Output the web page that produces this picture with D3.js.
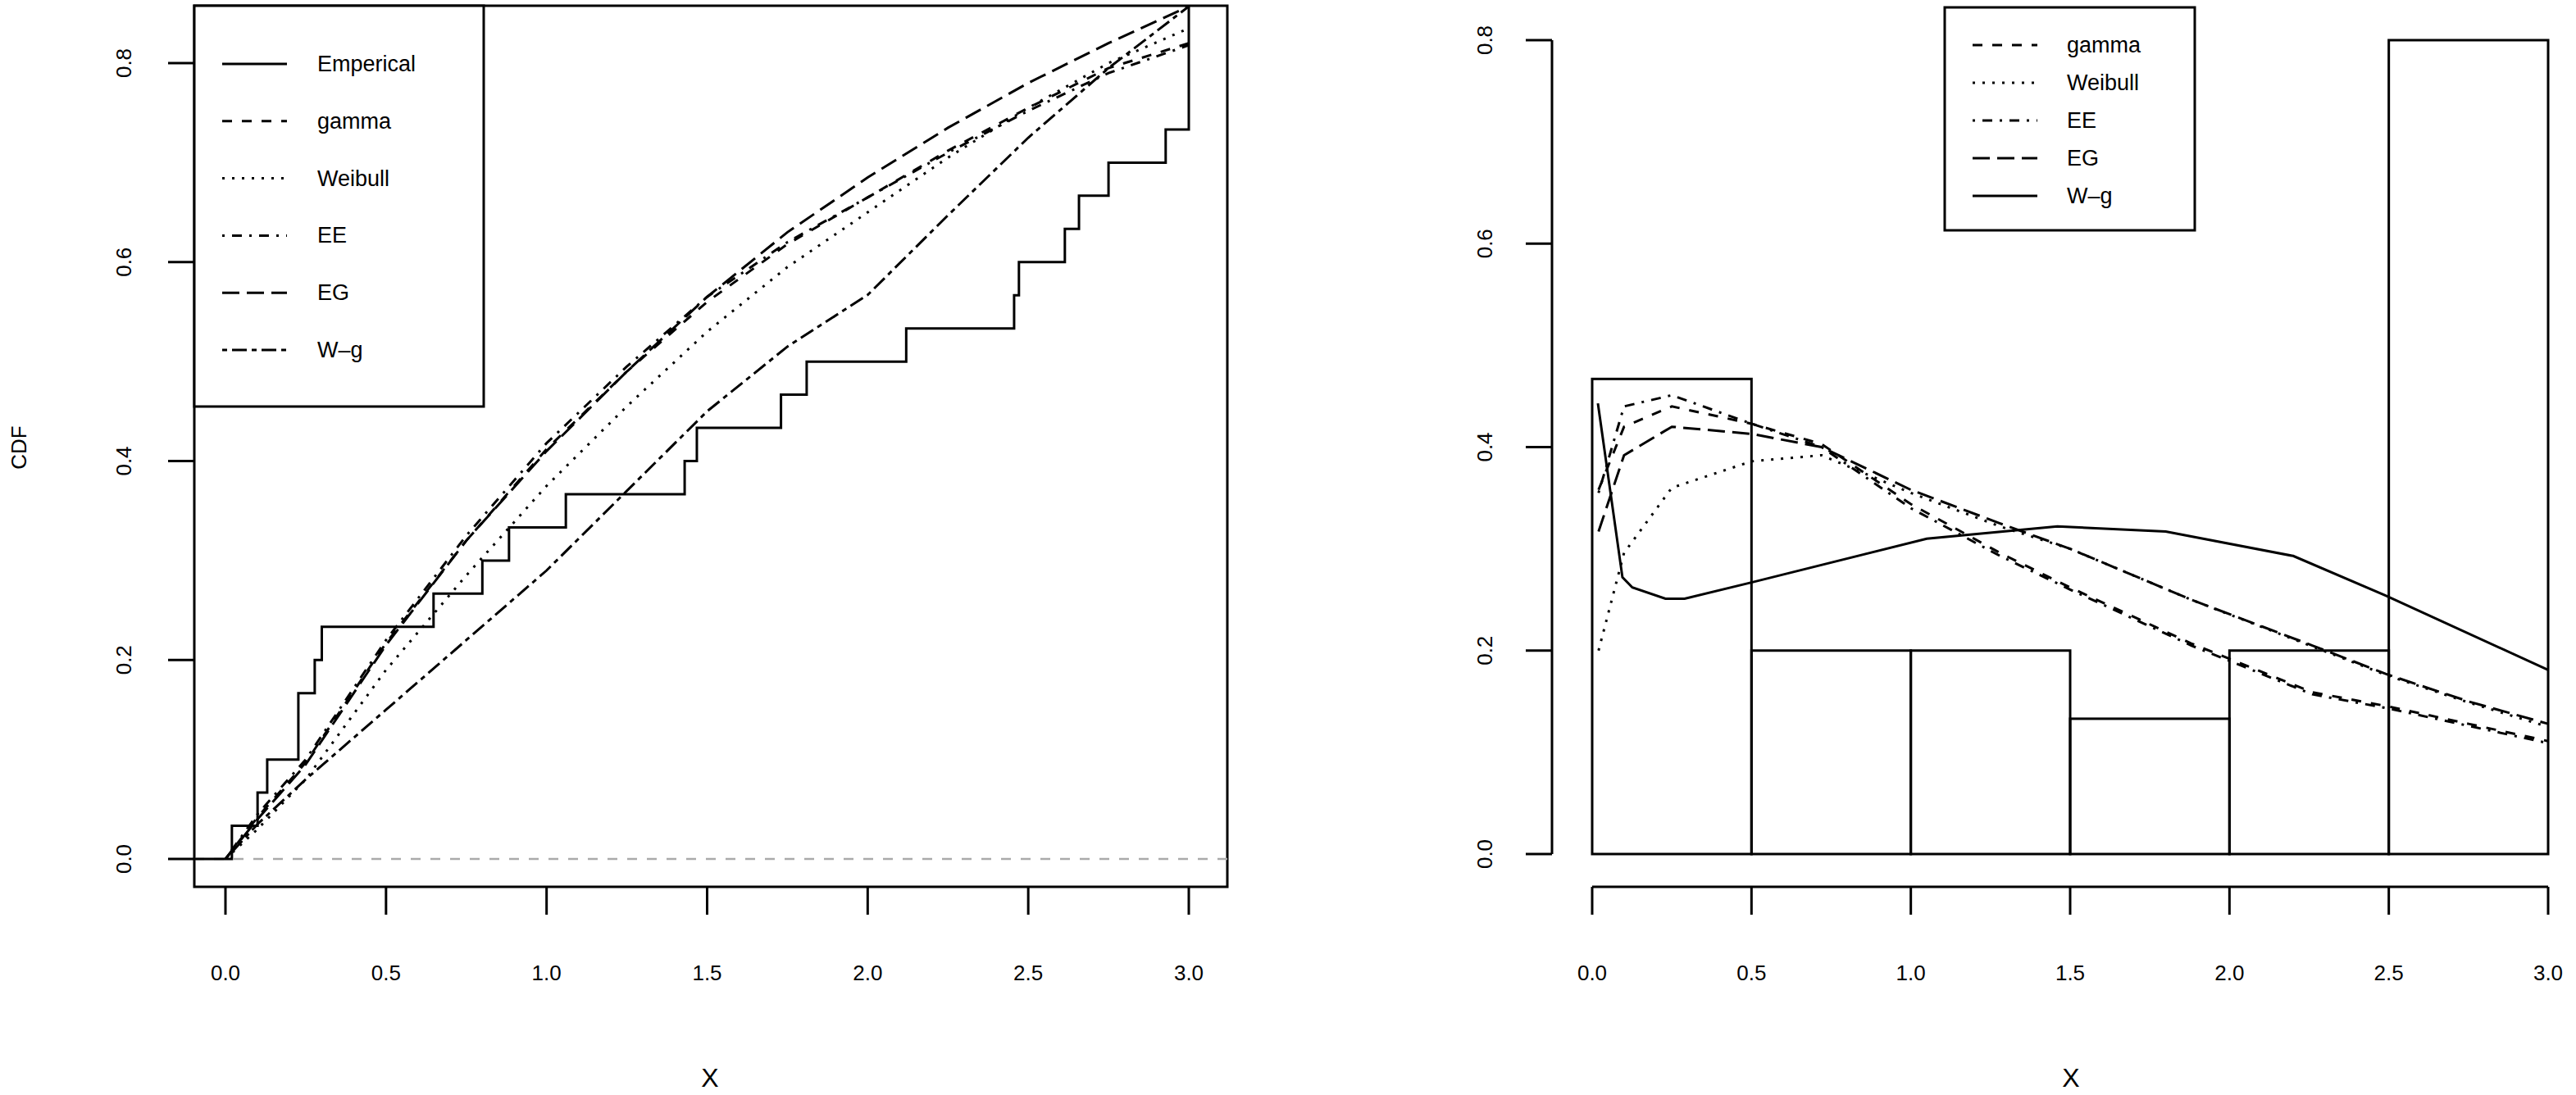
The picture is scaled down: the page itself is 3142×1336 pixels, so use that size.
<!DOCTYPE html>
<html><head><meta charset="utf-8">
<script src="https://cdn.jsdelivr.net/npm/d3@7"></script>
<style>body{margin:0;background:#fff}text{font-family:"Liberation Sans",Arial,sans-serif}</style>
</head><body>
<svg id="chart" width="3142" height="1336"></svg>
<script>
// empirical CDF steps (x, level after jump)
var ecdfX = [0.02,0.10,0.13,0.227,0.278,0.30,0.648,0.80,0.883,1.06,1.43,1.468,1.73,1.81,2.12,2.456,2.471,2.614,2.658,2.75,2.928,3.0];
var ecdfY = [0.0333,0.0667,0.1,0.1667,0.2,0.2333,0.2667,0.3,0.3333,0.3667,0.4,0.4333,0.4667,0.5,0.5333,0.5667,0.6,0.6333,0.6667,0.7,0.7333,1.0];

var cdfX = [0,0.1,0.25,0.5,0.75,1,1.25,1.5,1.75,2,2.25,2.5,2.75,3];
var cdfGamma = [0,0.042,0.097,0.217,0.32,0.412,0.49,0.56,0.618,0.665,0.712,0.755,0.795,0.82];
var cdfWeibull = [0,0.03,0.08,0.19,0.285,0.375,0.455,0.53,0.595,0.65,0.705,0.755,0.8,0.835];
var cdfEE = [0,0.045,0.1,0.22,0.325,0.418,0.495,0.565,0.62,0.665,0.71,0.752,0.79,0.818];
var cdfEG = [0,0.04,0.095,0.215,0.32,0.41,0.49,0.565,0.63,0.685,0.735,0.78,0.82,0.857];
var cdfWg = [0,0.035,0.08,0.15,0.22,0.29,0.37,0.45,0.515,0.567,0.647,0.725,0.795,0.857];

var histBreaks = [0,0.5,1,1.5,2,2.5,3];
var histDensity = [0.467,0.2,0.2,0.133,0.2,0.8];

var pdfX = [0.02,0.1,0.25,0.5,0.72,1.0,1.28,1.5,1.88,2.26,2.5,2.75,3.0];
var pdfGamma = [0.358,0.42,0.44,0.423,0.403,0.344,0.296,0.262,0.207,0.159,0.145,0.128,0.111];
var pdfEE = [0.355,0.44,0.451,0.423,0.4,0.34,0.293,0.26,0.205,0.157,0.143,0.126,0.109];
var pdfEG = [0.317,0.392,0.42,0.413,0.4,0.358,0.325,0.3,0.25,0.205,0.176,0.15,0.128];
var pdfWeibull = [0.2,0.296,0.36,0.386,0.392,0.355,0.322,0.3,0.25,0.204,0.175,0.149,0.125];
var wgX = [0.018,0.095,0.126,0.23,0.29,0.5,1.05,1.46,1.8,2.2,2.49,3.0];
var wgY = [0.443,0.272,0.262,0.251,0.251,0.267,0.31,0.322,0.317,0.293,0.254,0.181];

var yTicks = [0,0.2,0.4,0.6,0.8];
var xTicks = [0,0.5,1,1.5,2,2.5,3];
var fmt = d3.format(".1f");

var svg = d3.select("#chart");
var LW = 3;

function path(g, xs, ys, x, y, dash){
  var line = d3.line().x(function(d){return x(d[0]);}).y(function(d){return y(d[1]);});
  g.append("path").datum(d3.zip(xs, ys)).attr("d", line)
   .attr("fill","none").attr("stroke","#000").attr("stroke-width",LW)
   .attr("stroke-dasharray", dash);
}

// ---------- left panel ----------
var L = svg.append("g");
var xL = d3.scaleLinear().domain([0,3]).range([275,1450]);
var yL = d3.scaleLinear().domain([0,0.8]).range([1048,77]);
L.append("rect").attr("x",237).attr("y",7).attr("width",1260).attr("height",1075)
 .attr("fill","none").attr("stroke","#000").attr("stroke-width",LW);
L.append("defs").append("clipPath").attr("id","clipL").append("rect")
 .attr("x",237).attr("y",7).attr("width",1260).attr("height",1075);
var LP = L.append("g").attr("clip-path","url(#clipL)");
LP.append("line").attr("x1",237).attr("x2",1497).attr("y1",yL(0)).attr("y2",yL(0))
 .attr("stroke","#aaa").attr("stroke-width",2.5).attr("stroke-dasharray","12,12");

var stepPts = [[-0.1,0],[ecdfX[0],0]];
ecdfX.forEach(function(v,i){
  stepPts.push([v, ecdfY[i]]);
  stepPts.push([i+1<ecdfX.length?ecdfX[i+1]:3.2, ecdfY[i]]);
});
path(LP, stepPts.map(function(d){return d[0];}), stepPts.map(function(d){return d[1];}), xL, yL, null);
path(LP, cdfX, cdfGamma, xL, yL, "12,12");
path(LP, cdfX, cdfWeibull, xL, yL, "3,9");
path(LP, cdfX, cdfEE, xL, yL, "3,9,12,9");
path(LP, cdfX, cdfEG, xL, yL, "21,9");
path(LP, cdfX, cdfWg, xL, yL, "6,6,18,6");

L.selectAll(".yt").data(yTicks).enter().append("line")
 .attr("x1",205).attr("x2",237).attr("y1",yL).attr("y2",yL).attr("stroke","#000").attr("stroke-width",LW);
L.selectAll(".yl").data(yTicks).enter().append("text")
 .attr("transform",function(d){return "translate(160,"+yL(d)+") rotate(-90)";})
 .attr("text-anchor","middle").attr("font-size",26).text(fmt);
L.selectAll(".xt").data(xTicks).enter().append("line")
 .attr("x1",xL).attr("x2",xL).attr("y1",1082).attr("y2",1116).attr("stroke","#000").attr("stroke-width",LW);
L.selectAll(".xl").data(xTicks).enter().append("text")
 .attr("x",xL).attr("y",1196).attr("text-anchor","middle").attr("font-size",26).text(fmt);
L.append("text").attr("x",866).attr("y",1326).attr("text-anchor","middle").attr("font-size",32).text("X");
L.append("text").attr("transform","translate(32,546) rotate(-90)").attr("text-anchor","middle").attr("font-size",26).text("CDF");

var legL = [["Emperical",null],["gamma","12,12"],["Weibull","3,9"],["EE","3,9,12,9"],["EG","21,9"],["W\u2013g","6,6,18,6"]];
L.append("rect").attr("x",237).attr("y",7).attr("width",353).attr("height",489)
 .attr("fill","#fff").attr("stroke","#000").attr("stroke-width",LW);
legL.forEach(function(d,i){
  var yy = 78 + i*69.8;
  L.append("line").attr("x1",271).attr("x2",350).attr("y1",yy).attr("y2",yy)
   .attr("stroke","#000").attr("stroke-width",LW).attr("stroke-dasharray",d[1]);
  L.append("text").attr("x",387).attr("y",yy+9).attr("font-size",27).text(d[0]);
});

// ---------- right panel ----------
var R = svg.append("g");
var xR = d3.scaleLinear().domain([0,3]).range([1942,3108]);
var yR = d3.scaleLinear().domain([0,0.8]).range([1042,49]);
R.selectAll(".bar").data(histDensity).enter().append("rect")
 .attr("x",function(d,i){return xR(histBreaks[i]);})
 .attr("width",function(d,i){return xR(histBreaks[i+1])-xR(histBreaks[i]);})
 .attr("y",function(d){return yR(d);})
 .attr("height",function(d){return yR(0)-yR(d);})
 .attr("fill","none").attr("stroke","#000").attr("stroke-width",LW);
path(R, pdfX, pdfGamma, xR, yR, "12,12");
path(R, pdfX, pdfWeibull, xR, yR, "3,9");
path(R, pdfX, pdfEE, xR, yR, "3,9,12,9");
path(R, pdfX, pdfEG, xR, yR, "21,9");
path(R, wgX, wgY, xR, yR, null);

R.append("line").attr("x1",1893).attr("x2",1893).attr("y1",yR(0)).attr("y2",yR(0.8)).attr("stroke","#000").attr("stroke-width",LW);
R.selectAll(".yt").data(yTicks).enter().append("line")
 .attr("x1",1861).attr("x2",1893).attr("y1",yR).attr("y2",yR).attr("stroke","#000").attr("stroke-width",LW);
R.selectAll(".yl").data(yTicks).enter().append("text")
 .attr("transform",function(d){return "translate(1820,"+yR(d)+") rotate(-90)";})
 .attr("text-anchor","middle").attr("font-size",26).text(fmt);
R.append("line").attr("x1",xR(0)).attr("x2",xR(3)).attr("y1",1082).attr("y2",1082).attr("stroke","#000").attr("stroke-width",LW);
R.selectAll(".xt").data(xTicks).enter().append("line")
 .attr("x1",xR).attr("x2",xR).attr("y1",1082).attr("y2",1116).attr("stroke","#000").attr("stroke-width",LW);
R.selectAll(".xl").data(xTicks).enter().append("text")
 .attr("x",xR).attr("y",1196).attr("text-anchor","middle").attr("font-size",26).text(fmt);
R.append("text").attr("x",2526).attr("y",1326).attr("text-anchor","middle").attr("font-size",32).text("X");

var legR = [["gamma","12,12"],["Weibull","3,9"],["EE","3,9,12,9"],["EG","21,9"],["W\u2013g",null]];
R.append("rect").attr("x",2372).attr("y",9).attr("width",305).attr("height",272)
 .attr("fill","#fff").attr("stroke","#000").attr("stroke-width",LW);
legR.forEach(function(d,i){
  var yy = 55 + i*46;
  R.append("line").attr("x1",2406).attr("x2",2485).attr("y1",yy).attr("y2",yy)
   .attr("stroke","#000").attr("stroke-width",LW).attr("stroke-dasharray",d[1]);
  R.append("text").attr("x",2521).attr("y",yy+9).attr("font-size",27).text(d[0]);
});
</script>
</body></html>
